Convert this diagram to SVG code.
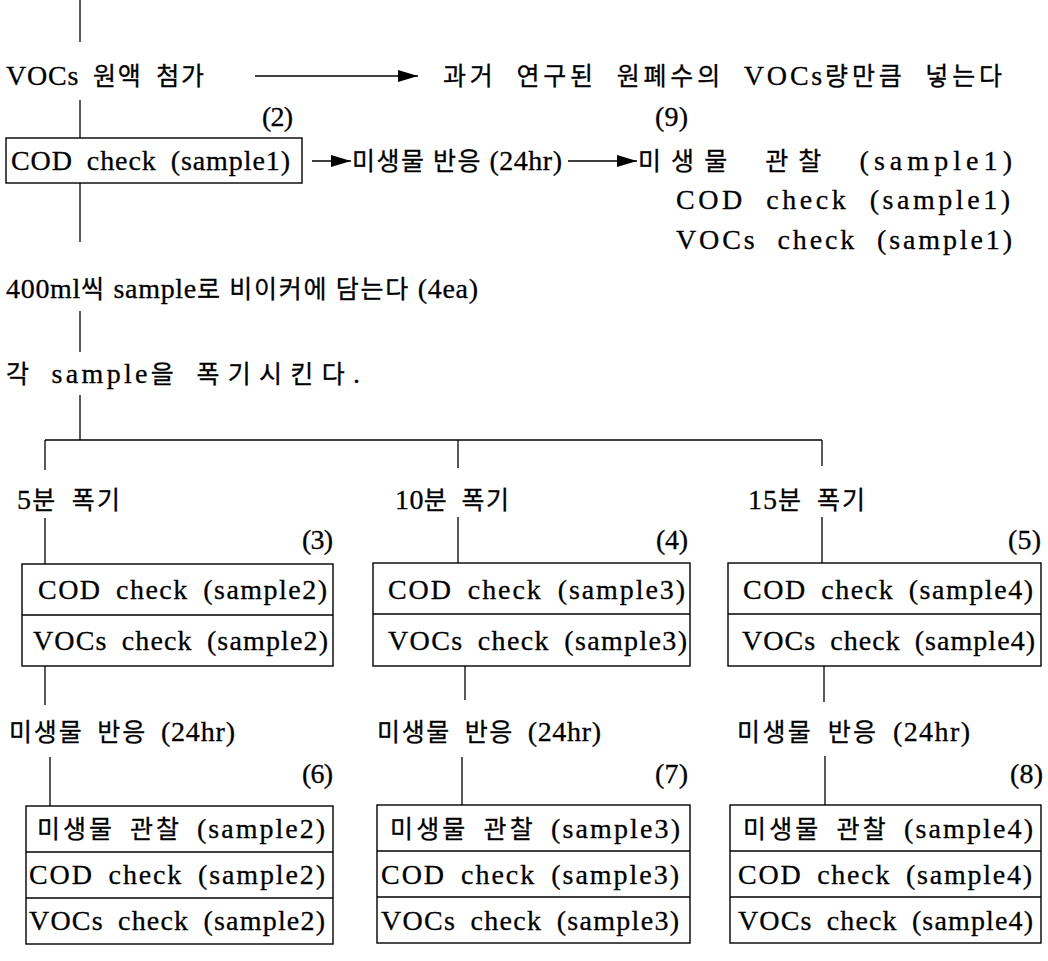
<svg xmlns="http://www.w3.org/2000/svg" width="1048" height="961" viewBox="0 0 1048 961">
<style>
.t{font-family:"Liberation Serif","Times New Roman","DejaVu Serif","Noto Sans CJK KR",serif;font-size:28px;word-spacing:6px;fill:#000;stroke:#000;stroke-width:0.3}
.k{font-size:25px;letter-spacing:1px}
.ks{font-size:25px;letter-spacing:5px}
.w{word-spacing:10px}
.l{stroke:#000;stroke-width:1.3;fill:none}
.b{fill:#fff;stroke:#000;stroke-width:1.4}
</style>
<defs>
<marker id="ah" markerUnits="userSpaceOnUse" viewBox="0 0 20 12" markerWidth="20" markerHeight="12" refX="20" refY="6" orient="auto">
<path d="M0,0 L20,6 L0,12 z" fill="#000"/>
</marker>
</defs>
<rect width="1048" height="961" fill="#fff"/>
<g id="connectors">
<line class="l" x1="80" y1="0" x2="80" y2="42"/>
<line class="l" x1="80" y1="100" x2="80" y2="138"/>
<line class="l" x1="80" y1="183" x2="80" y2="242"/>
<line class="l" x1="80" y1="311" x2="80" y2="352"/>
<line class="l" x1="80" y1="395" x2="80" y2="440"/>
<line class="l" x1="45" y1="440" x2="822" y2="440"/>
<line class="l" x1="45" y1="440" x2="45" y2="470"/>
<line class="l" x1="458" y1="440" x2="458" y2="468"/>
<line class="l" x1="822" y1="440" x2="822" y2="466"/>
<line class="l" x1="45" y1="518" x2="45" y2="564"/>
<line class="l" x1="458" y1="517" x2="458" y2="563"/>
<line class="l" x1="822" y1="517" x2="822" y2="563"/>
<line class="l" x1="45" y1="666" x2="45" y2="705"/>
<line class="l" x1="465" y1="666" x2="465" y2="700"/>
<line class="l" x1="824" y1="666" x2="824" y2="702"/>
<line class="l" x1="50" y1="757" x2="50" y2="806"/>
<line class="l" x1="462" y1="757" x2="462" y2="805"/>
<line class="l" x1="825" y1="756" x2="825" y2="805"/>
<line class="l" x1="255" y1="76" x2="418" y2="76" marker-end="url(#ah)"/>
<line class="l" x1="312" y1="161" x2="351" y2="161" marker-end="url(#ah)"/>
<line class="l" x1="568" y1="161" x2="637" y2="161" marker-end="url(#ah)"/>
</g>
<g id="n-add">
<text class="t" x="6" y="85" textLength="199" lengthAdjust="spacing">VOCs <tspan class="k">원액</tspan> <tspan class="k">첨가</tspan></text>
</g>
<g id="n-past">
<text class="t w" x="443" y="85" textLength="560" lengthAdjust="spacing"><tspan class="k">과거</tspan> <tspan class="k">연구된</tspan> <tspan class="k">원폐수의</tspan> VOCs<tspan class="k">량만큼</tspan> <tspan class="k">넣는다</tspan></text>
</g>
<g id="n-cod1">
<text class="t" x="262" y="126" textLength="31" lengthAdjust="spacing">(2)</text>
<rect class="b" x="6" y="138" width="296" height="45"/>
<text class="t" x="11" y="170" textLength="279" lengthAdjust="spacing">COD check (sample1)</text>
</g>
<g id="n-react1">
<text class="t" style="word-spacing:0px" x="352" y="170" textLength="210" lengthAdjust="spacing"><tspan class="k">미생물</tspan> <tspan class="k">반응</tspan> (24hr)</text>
</g>
<g id="n-obs1">
<text class="t" x="655" y="126" textLength="33" lengthAdjust="spacing">(9)</text>
<text class="t" style="word-spacing:16px" x="638" y="170" textLength="374" lengthAdjust="spacing"><tspan class="ks">미생물</tspan> <tspan class="ks">관찰</tspan> (sample1)</text>
<text class="t w" x="676" y="209" textLength="334" lengthAdjust="spacing">COD check (sample1)</text>
<text class="t w" x="676" y="249" textLength="336" lengthAdjust="spacing">VOCs check (sample1)</text>
</g>
<g id="n-beaker">
<text class="t" style="word-spacing:0px" x="6" y="298" textLength="472" lengthAdjust="spacing">400ml<tspan class="k">씩</tspan> sample<tspan class="k">로</tspan> <tspan class="k">비이커에</tspan> <tspan class="k">담는다</tspan> (4ea)</text>
</g>
<g id="n-aerate">
<text class="t" style="word-spacing:8px" x="6" y="383" textLength="354" lengthAdjust="spacing"><tspan class="k">각</tspan> sample<tspan class="k">을</tspan> <tspan class="ks">폭기시킨다</tspan>.</text>
</g>
<g id="n-5min">
<text class="t" x="17" y="509" textLength="104" lengthAdjust="spacing">5<tspan class="k">분</tspan> <tspan class="k">폭기</tspan></text>
</g>
<g id="n-10min">
<text class="t" x="395" y="509" textLength="115" lengthAdjust="spacing">10<tspan class="k">분</tspan> <tspan class="k">폭기</tspan></text>
</g>
<g id="n-15min">
<text class="t" x="748" y="509" textLength="118" lengthAdjust="spacing">15<tspan class="k">분</tspan> <tspan class="k">폭기</tspan></text>
</g>
<g id="n-box3">
<text class="t" x="302" y="549" textLength="31" lengthAdjust="spacing">(3)</text>
<rect class="b" x="22" y="564" width="311" height="102"/>
<line class="l" x1="22" y1="615" x2="333" y2="615"/>
<text class="t" x="38" y="599" textLength="289" lengthAdjust="spacing">COD check (sample2)</text>
<text class="t" x="33" y="650" textLength="295" lengthAdjust="spacing">VOCs check (sample2)</text>
</g>
<g id="n-box4">
<text class="t" x="656" y="549" textLength="32" lengthAdjust="spacing">(4)</text>
<rect class="b" x="373" y="563" width="317" height="103"/>
<line class="l" x1="373" y1="614" x2="690" y2="614"/>
<text class="t" x="388" y="599" textLength="297" lengthAdjust="spacing">COD check (sample3)</text>
<text class="t" x="388" y="650" textLength="299" lengthAdjust="spacing">VOCs check (sample3)</text>
</g>
<g id="n-box5">
<text class="t" x="1008" y="549" textLength="33" lengthAdjust="spacing">(5)</text>
<rect class="b" x="728" y="563" width="313" height="103"/>
<line class="l" x1="728" y1="614" x2="1041" y2="614"/>
<text class="t" x="743" y="599" textLength="290" lengthAdjust="spacing">COD check (sample4)</text>
<text class="t" x="742" y="650" textLength="293" lengthAdjust="spacing">VOCs check (sample4)</text>
</g>
<g id="n-react2">
<text class="t" x="9" y="741" textLength="226" lengthAdjust="spacing"><tspan class="k">미생물</tspan> <tspan class="k">반응</tspan> (24hr)</text>
</g>
<g id="n-react3">
<text class="t" x="377" y="741" textLength="224" lengthAdjust="spacing"><tspan class="k">미생물</tspan> <tspan class="k">반응</tspan> (24hr)</text>
</g>
<g id="n-react4">
<text class="t" x="737" y="741" textLength="233" lengthAdjust="spacing"><tspan class="k">미생물</tspan> <tspan class="k">반응</tspan> (24hr)</text>
</g>
<g id="n-box6">
<text class="t" x="302" y="783" textLength="31" lengthAdjust="spacing">(6)</text>
<rect class="b" x="26" y="806" width="307" height="138"/>
<line class="l" x1="26" y1="852" x2="333" y2="852"/>
<line class="l" x1="26" y1="898" x2="333" y2="898"/>
<text class="t" x="37" y="838" textLength="288" lengthAdjust="spacing"><tspan class="k">미생물</tspan> <tspan class="k">관찰</tspan> (sample2)</text>
<text class="t" x="29" y="884" textLength="296" lengthAdjust="spacing">COD check (sample2)</text>
<text class="t" x="29" y="930" textLength="296" lengthAdjust="spacing">VOCs check (sample2)</text>
</g>
<g id="n-box7">
<text class="t" x="655" y="783" textLength="33" lengthAdjust="spacing">(7)</text>
<rect class="b" x="377" y="805" width="313" height="138"/>
<line class="l" x1="377" y1="851" x2="690" y2="851"/>
<line class="l" x1="377" y1="897" x2="690" y2="897"/>
<text class="t" x="390" y="838" textLength="290" lengthAdjust="spacing"><tspan class="k">미생물</tspan> <tspan class="k">관찰</tspan> (sample3)</text>
<text class="t" x="381" y="884" textLength="298" lengthAdjust="spacing">COD check (sample3)</text>
<text class="t" x="381" y="930" textLength="298" lengthAdjust="spacing">VOCs check (sample3)</text>
</g>
<g id="n-box8">
<text class="t" x="1010" y="783" textLength="33" lengthAdjust="spacing">(8)</text>
<rect class="b" x="730" y="805" width="311" height="138"/>
<line class="l" x1="730" y1="851" x2="1041" y2="851"/>
<line class="l" x1="730" y1="897" x2="1041" y2="897"/>
<text class="t" x="743" y="838" textLength="290" lengthAdjust="spacing"><tspan class="k">미생물</tspan> <tspan class="k">관찰</tspan> (sample4)</text>
<text class="t" x="738" y="884" textLength="294" lengthAdjust="spacing">COD check (sample4)</text>
<text class="t" x="738" y="930" textLength="295" lengthAdjust="spacing">VOCs check (sample4)</text>
</g>
</svg>
